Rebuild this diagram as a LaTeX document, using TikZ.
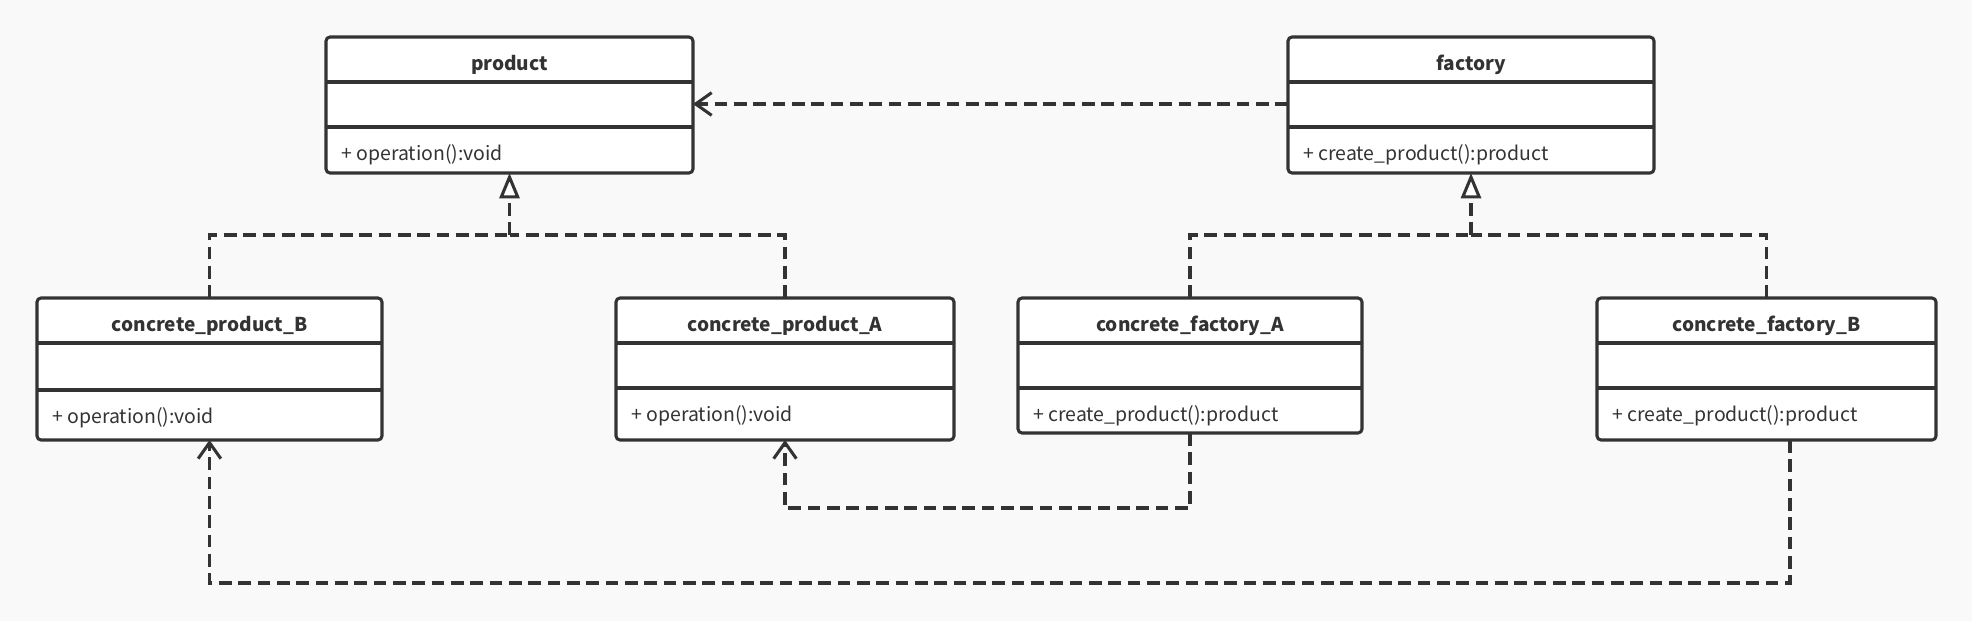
\documentclass[tikz,border=0pt]{standalone}
\usepackage{fontspec}
\setmainfont{Noto Sans CJK SC}
\usetikzlibrary{arrows.meta}
\definecolor{ink}{HTML}{333333}
\definecolor{bg}{HTML}{F9F9F9}
\tikzset{
  classbox/.style={draw=ink, fill=white, line width=2.3pt, rounded corners=3pt, inner sep=0pt, outer sep=0pt},
  sepline/.style={draw=ink, line width=2.3pt},
  titletext/.style={text=ink, font=\fontsize{14.3pt}{17pt}\selectfont\bfseries, inner sep=0pt, anchor=base},
  methtext/.style={text=ink, font=\fontsize{14.6pt}{17pt}\selectfont, inner sep=0pt, anchor=base west},
  dep/.style={draw=ink, line width=2.3pt, dash pattern=on 9.5pt off 5pt},
  usearrow/.style={dep, -{Straight Barb[length=12pt,width=17pt]}},
  realize/.style={dep, -{Triangle[open,fill=white,length=19pt,width=15pt]}},
}
% #1 name, #2 x1, #3 y1, #4 x2, #5 y2, #6 sep1, #7 sep2, #8 title, #9 method
\newcommand\umlclass[9]{%
  \node[classbox, minimum width={(#4-#2)*0.75pt}, minimum height={(#5-#3)*0.75pt}] (#1) at ({(#2+#4)/2},{(#3+#5)/2}) {};
  \path (0,#6) coordinate (#1-s1) (0,#7) coordinate (#1-s2);
  \draw[sepline] (#1-s1 -| #1.west) -- (#1-s1 -| #1.east);
  \draw[sepline] (#1-s2 -| #1.west) -- (#1-s2 -| #1.east);
  \node[titletext] (#1-t) at ({(#2+#4)/2},{#3+33}) {#8};
  \node[methtext] (#1-m) at ({#2+15},{#7+33}) {#9};
}
\begin{document}
\begin{tikzpicture}[x=0.75pt, y=-0.75pt]
  \fill[bg] (0,0) rectangle (1972,621);
  \useasboundingbox (0,0) rectangle (1972,621);

  \umlclass{prod}{326}{37}{693}{173}{82}{127}{product}{+ operation():void}
  \umlclass{fac}{1288}{37}{1654}{173}{82}{127}{factory}{+ create\_product():product}
  \umlclass{cpB}{37}{298}{382}{440}{343}{390}{concrete\_product\_B}{+ operation():void}
  \umlclass{cpA}{616}{298}{954}{440}{343}{388}{concrete\_product\_A}{+ operation():void}
  \umlclass{cfA}{1018}{298}{1362}{433}{343}{388}{concrete\_factory\_A}{+ create\_product():product}
  \umlclass{cfB}{1597}{298}{1936}{440}{343}{388}{concrete\_factory\_B}{+ create\_product():product}

  % factory uses product
  \coordinate (mid) at (0,104);
  \draw[usearrow] (fac.west |- mid) -- (prod.east |- mid);

  % realization of product
  \coordinate (jp) at (509.5,235);
  \draw[dep] (cpB.north) |- (jp);
  \draw[dep] (cpA.north) |- (jp);
  \draw[realize] (jp) -- (jp |- prod.south);

  % realization of factory
  \coordinate (jf) at (1471,235);
  \draw[dep] (cfA.north) |- (jf);
  \draw[dep] (cfB.north) |- (jf);
  \draw[realize] (jf) -- (jf |- fac.south);

  % concrete_factory_A uses concrete_product_A
  \coordinate (ra) at (1190,508);
  \draw[usearrow] (cfA.south) -- (ra) -| (cpA.south);

  % concrete_factory_B uses concrete_product_B
  \coordinate (rb) at (1790,583);
  \draw[usearrow] (cfB.south -| rb) -- (rb) -| (cpB.south);
\end{tikzpicture}
\end{document}
